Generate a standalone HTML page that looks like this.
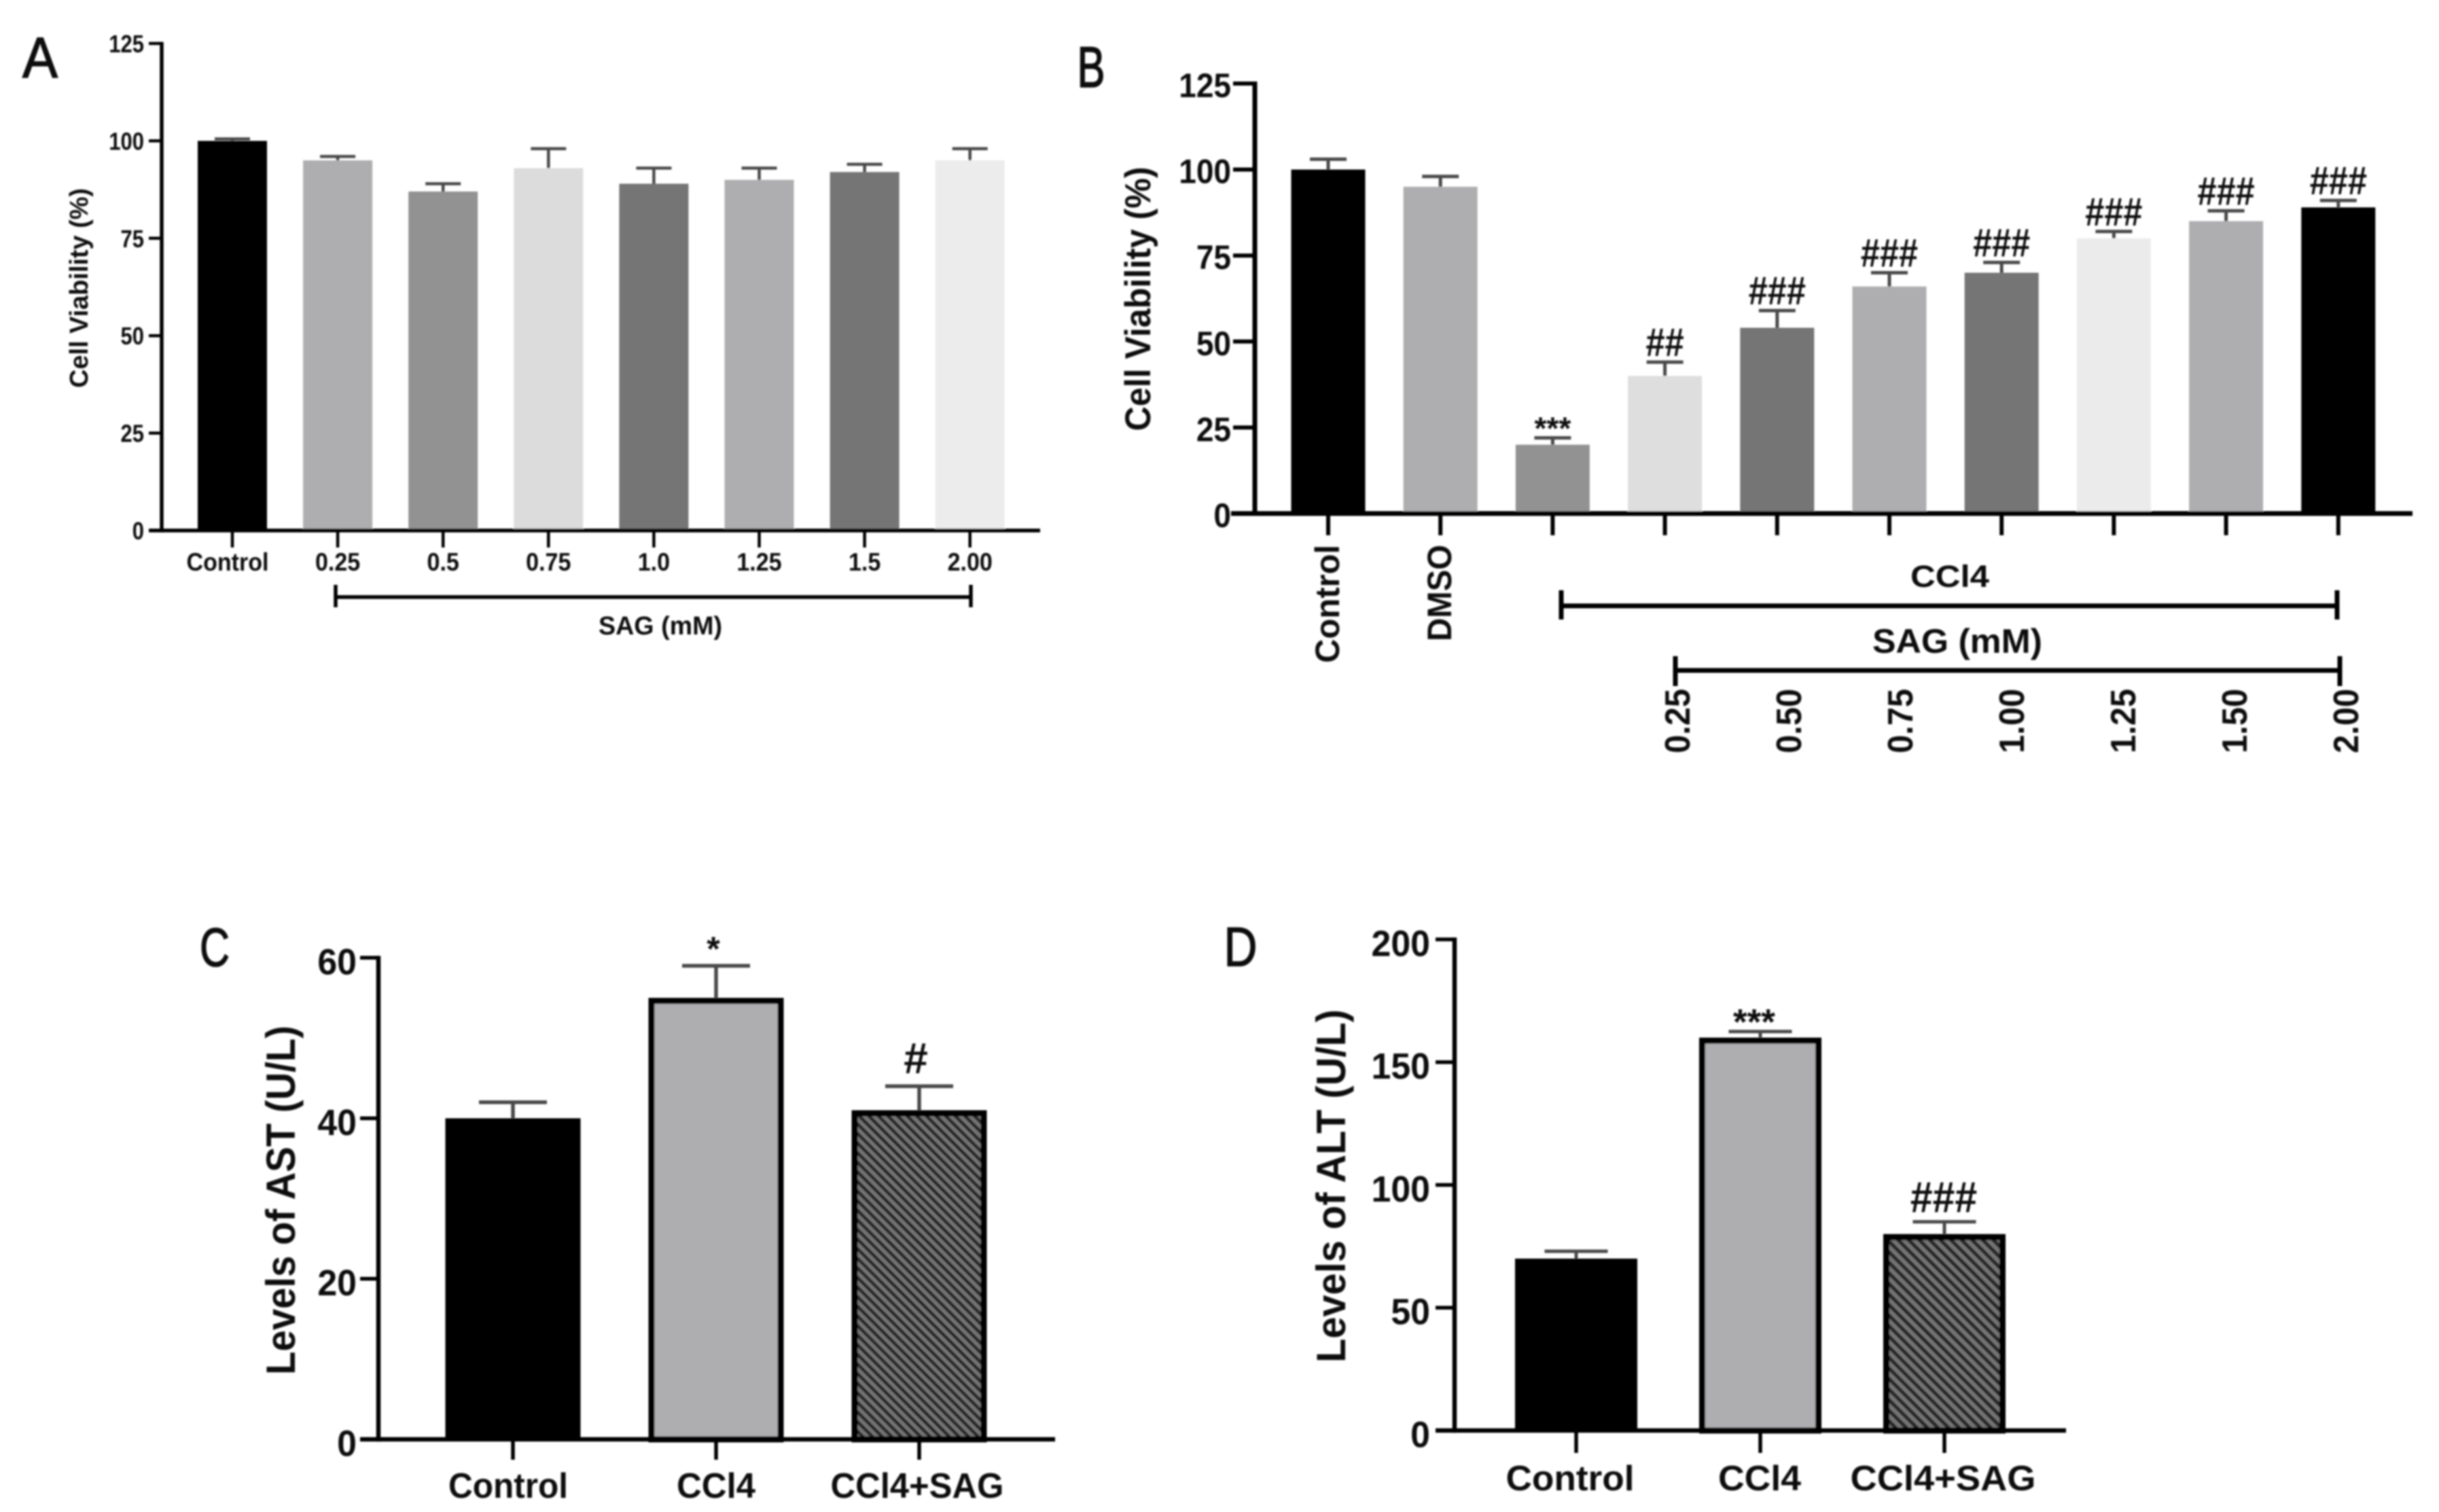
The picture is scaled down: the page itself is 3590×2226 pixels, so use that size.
<!DOCTYPE html>
<html lang="en">
<head>
<meta charset="utf-8">
<title>Cell viability and liver enzyme bar charts</title>
<style>
html,body{margin:0;padding:0;background:#fff;width:3590px;height:2226px;overflow:hidden}
svg{display:block}
text{font-family:"Liberation Sans",sans-serif;fill:#111}
</style>
</head>
<body>
<svg id="figure" xmlns="http://www.w3.org/2000/svg" width="3590" height="2226" viewBox="0 0 3590 2226">
<defs>
<filter id="soft" x="0" y="0" width="100%" height="100%" filterUnits="userSpaceOnUse" primitiveUnits="userSpaceOnUse">
<feGaussianBlur stdDeviation="1.3"/>
</filter>
<pattern id="hatchC" patternUnits="userSpaceOnUse" width="10" height="10" patternTransform="rotate(-45)">
<rect width="10" height="10" fill="#757575"/><rect width="5" height="10" fill="#262626"/>
</pattern>
<pattern id="hatchD" patternUnits="userSpaceOnUse" width="11" height="11" patternTransform="rotate(-45)">
<rect width="11" height="11" fill="#757575"/><rect width="5.5" height="11" fill="#262626"/>
</pattern>
</defs>
<rect width="3590" height="2226" fill="#fff"/>
<g id="root" filter="url(#soft)"></g>
</svg>
<script>
// Panel A data
const categoriesA = ['Control', '0.25', '0.5', '0.75', '1.0', '1.25', '1.5', '2.00'];
const valuesA = [100, 95, 87, 93, 89, 90, 92, 95];
const errorTopsA = [100.5, 96, 89, 98, 93, 93, 94, 98];
const ticksA = [0, 25, 50, 75, 100, 125];

// Panel B data
const categoriesB = ['Control', 'DMSO', '', '', '', '', '', '', '', ''];
const valuesB = [100, 95, 20, 40, 54, 66, 70, 80, 85, 89];
const errorTopsB = [103, 98, 22, 44, 59, 70, 73, 82, 88, 91];
const ticksB = [0, 25, 50, 75, 100, 125];
const marksB = ['', '', '***', '##', '###', '###', '###', '###', '###', '###'];
const dosesB = ['0.25', '0.50', '0.75', '1.00', '1.25', '1.50', '2.00'];

// Panel C data
const categoriesC = ['Control', 'CCl4', 'CCl4+SAG'];
const valuesC = [40, 55, 41];
const errorTopsC = [42, 59, 44];
const ticksC = [0, 20, 40, 60];
const marksC = ['', '*', '#'];

// Panel D data
const categoriesD = ['Control', 'CCl4', 'CCl4+SAG'];
const valuesD = [70, 160, 80];
const errorTopsD = [73, 162.5, 85];
const ticksD = [0, 50, 100, 150, 200];
const marksD = ['', '***', '###'];

const root = document.getElementById('root');
const NS = 'http://www.w3.org/2000/svg';

function add(tag, attrs, name, parent) {
  const el = document.createElementNS(NS, tag);
  for (const k in attrs) el.setAttribute(k, attrs[k]);
  
  
  (parent || root).appendChild(el);
  return el;
}
function line(x1, y1, x2, y2, w, color, name, parent) {
  return add('line', {x1: x1, y1: y1, x2: x2, y2: y2, stroke: color || '#000', 'stroke-width': w}, name, parent);
}
function label(str, x, y, o, name, parent) {
  const a = {x: x, y: y, 'font-size': o.size, 'font-weight': o.weight || 'bold', 'text-anchor': o.anchor || 'middle'};
  if (o.len) { a.textLength = o.len; a.lengthAdjust = 'spacingAndGlyphs'; }
  if (o.rotate) a.transform = 'rotate(-90 ' + x + ' ' + y + ')';
  if (o.stroke) { a.stroke = '#111'; a['stroke-width'] = o.stroke; }
  const t = add('text', a, name, parent);
  t.textContent = str;
  if (o.squeeze) {
    const natural = t.getComputedTextLength();
    t.setAttribute('textLength', natural * o.squeeze);
    t.setAttribute('lengthAdjust', 'spacingAndGlyphs');
  }
  return t;
}

function drawPanel(p) {
  const g = add('g', {}, p.name);
  const yScale = v => p.y0 - (v / p.yMax) * (p.y0 - p.yTop);
  const xScale = i => p.x0 + i * p.step;

  // bars
  p.values.forEach((v, i) => {
    const outlined = p.outlined && p.outlined[i];
    const inset = outlined ? p.border / 2 : 0;
    add('rect', {
      x: xScale(i) - p.barW / 2 + inset,
      y: yScale(v) + inset,
      width: p.barW - inset * 2,
      height: p.y0 - yScale(v) - inset,
      fill: p.fills[i],
      stroke: outlined ? '#000' : 'none',
      'stroke-width': outlined ? p.border : 0
    }, 'bar-' + p.id + '-' + i, g);
  });

  // error bars
  p.errorTops.forEach((e, i) => {
    const cx = xScale(i);
    line(cx, yScale(p.values[i]), cx, yScale(e), p.errW, '#4a4a4a', 'error-stem-' + p.id + '-' + i, g);
    line(cx - p.capW / 2, yScale(e), cx + p.capW / 2, yScale(e), p.capH, '#4a4a4a', 'error-cap-' + p.id + '-' + i, g);
  });

  // axes
  line(p.axisX, p.yTop - p.tickW / 2, p.axisX, p.y0 + p.axisW / 2, p.axisW, '#000', 'y-axis-' + p.id, g);
  line(p.xLeft, p.y0, p.xRight, p.y0, p.axisW, '#000', 'x-axis-' + p.id, g);

  // y ticks
  p.ticks.forEach(t => {
    line(p.axisX - p.tickLen, yScale(t), p.axisX, yScale(t), p.tickW, '#000', 'y-tick-' + p.id + '-' + t, g);
    label(String(t), p.axisX - p.tickLen - p.labelGap, yScale(t) + p.tickSize * 0.36 + p.labelDy,
      {size: p.tickSize, anchor: 'end', squeeze: p.tickSqueeze}, 'y-tick-label-' + p.id + '-' + t, g);
  });

  // x ticks & labels
  p.categories.forEach((c, i) => {
    line(xScale(i), p.y0, xScale(i), p.xTickEnd, p.xTickW, '#000', 'x-tick-' + p.id + '-' + i, g);
    if (!c) return;
    if (p.rotatedCats) {
      label(c, xScale(i) + 16, p.rotTop, {size: p.rotSize, anchor: 'end', rotate: true, len: p.rotLens[i]}, 'x-label-' + p.id + '-' + i, g);
    } else {
      label(c, xScale(i) + (p.catShift ? p.catShift[i] : 0), p.catBase,
        {size: p.catSize, len: p.catLens ? p.catLens[i] : null, squeeze: p.catSqueeze}, 'x-label-' + p.id + '-' + i, g);
    }
  });

  // significance marks
  if (p.marks) p.marks.forEach((m, i) => {
    if (!m) return;
    const star = m[0] === '*';
    const gap = star ? p.starGap : p.hashGap;
    label(m, xScale(i) + (star ? p.starDx : p.hashDx), yScale(p.errorTops[i]) - gap,
      {size: star ? p.starSize : p.hashSize, squeeze: star ? null : p.hashSqueeze}, 'significance-' + p.id + '-' + i, g);
  });

  // y title
  label(p.yTitle, p.titleX, p.titleY, {size: p.titleSize, rotate: true, len: p.titleLen}, 'y-axis-title-' + p.id, g);
  return g;
}

function bracket(x1, x2, y, top, bottom, w, name) {
  line(x1, y, x2, y, w, '#000', name + '-line');
  line(x1, top, x1, bottom, w, '#000', name + '-left-end');
  line(x2, top, x2, bottom, w, '#000', name + '-right-end');
}

drawPanel({
  id: 'a', name: 'panel-a', categories: categoriesA, values: valuesA, errorTops: errorTopsA, ticks: ticksA,
  fills: ['#000', '#aeaeb0', '#929292', '#dcdcdc', '#757575', '#aeaeb0', '#757575', '#ececec'],
  x0: 342, step: 155.1, barW: 102, y0: 781, yTop: 64, yMax: 125, axisX: 238, xLeft: 219, xRight: 1531,
  axisW: 5.5, tickLen: 19, tickW: 4.5, labelGap: 7, labelDy: 0, tickSize: 36, tickSqueeze: 0.86, xTickEnd: 806, xTickW: 4.5,
  catBase: 840, catSize: 37, catSqueeze: 0.92, catShift: [-7, 0, 0, 0, 0, 0, 0, 0],
  errW: 4.5, capW: 52, capH: 4.5,
  yTitle: 'Cell Viability (%)', titleX: 129, titleY: 424, titleSize: 38, titleLen: 294
});

drawPanel({
  id: 'b', name: 'panel-b', categories: categoriesB, values: valuesB, errorTops: errorTopsB, ticks: ticksB,
  fills: ['#000', '#aeaeb0', '#929292', '#dedede', '#757575', '#aeaeb0', '#757575', '#ebebeb', '#aeaeb0', '#000'],
  x0: 1955, step: 165.2, barW: 109, y0: 756, yTop: 123, yMax: 125, axisX: 1847, xLeft: 1812, xRight: 3551,
  axisW: 7, tickLen: 32, tickW: 6, labelGap: 3, labelDy: 2, tickSize: 50, tickSqueeze: 0.92, xTickEnd: 788, xTickW: 6,
  rotatedCats: true, rotTop: 802, rotSize: 50, rotLens: [174, 142],
  errW: 5, capW: 54, capH: 5,
  marks: marksB, starSize: 46, starGap: -2, starDx: 0, hashSize: 58, hashSqueeze: 0.87, hashGap: 9, hashDx: 0,
  yTitle: 'Cell Viability (%)', titleX: 1693, titleY: 440, titleSize: 53, titleLen: 389
});

drawPanel({
  id: 'c', name: 'panel-c', categories: categoriesC, values: valuesC, errorTops: errorTopsC, ticks: ticksC,
  fills: ['#000', '#aeaeb0', 'url(#hatchC)'], outlined: [false, true, true], border: 9,
  x0: 755, step: 299, barW: 199, y0: 2119, yTop: 1410, yMax: 60, axisX: 557, xLeft: 530, xRight: 1553,
  axisW: 6.5, tickLen: 27, tickW: 5.5, labelGap: 5, labelDy: 5, tickSize: 54, tickSqueeze: 0.96, xTickEnd: 2149, xTickW: 5.5,
  catBase: 2205, catSize: 52, catShift: [-7, 0, -3], catLens: [176, 116, 255],
  errW: 5.5, capW: 100, capH: 5.5,
  marks: marksC, starSize: 50, starGap: 8, starDx: -4, hashSize: 64, hashGap: 19, hashDx: -5,
  yTitle: 'Levels of AST (U/L)', titleX: 434, titleY: 1767, titleSize: 60, titleLen: 514
});

drawPanel({
  id: 'd', name: 'panel-d', categories: categoriesD, values: valuesD, errorTops: errorTopsD, ticks: ticksD,
  fills: ['#000', '#aeaeb0', 'url(#hatchD)'], outlined: [false, true, true], border: 9,
  x0: 2320, step: 271, barW: 180, y0: 2106, yTop: 1383, yMax: 200, axisX: 2141, xLeft: 2113, xRight: 3041,
  axisW: 6.5, tickLen: 28, tickW: 5.5, labelGap: 8, labelDy: 5, tickSize: 54, tickSqueeze: 0.96, xTickEnd: 2139, xTickW: 5.5,
  catBase: 2194, catSize: 52, catShift: [-9, -1, -2], catLens: [189, 122, 273],
  errW: 5, capW: 93, capH: 5,
  marks: marksD, starSize: 53, starGap: -4, starDx: -9, hashSize: 64, hashSqueeze: 0.92, hashGap: 14, hashDx: -1,
  yTitle: 'Levels of ALT (U/L)', titleX: 1980, titleY: 1746, titleSize: 60, titleLen: 520
});

// panel A group label
bracket(494, 1429, 879, 861, 894, 5.5, 'sag-bracket-a');
label('SAG (mM)', 972, 934, {size: 38, len: 182}, 'sag-label-a');

// panel B group labels
bracket(2298, 3440, 892, 869, 912, 7, 'ccl4-bracket-b');
label('CCl4', 2870, 864, {size: 45, len: 116}, 'ccl4-label-b');
bracket(2466, 3444, 987, 966, 1010, 7, 'sag-bracket-b');
label('SAG (mM)', 2881, 961, {size: 50, len: 250}, 'sag-label-b');
dosesB.forEach((d, i) => {
  label(d, 2470 + 164 * i + 17, 1014, {size: 52, anchor: 'end', rotate: true, len: 95}, 'dose-label-b-' + i);
});

// panel letters
label('A', 59, 114, {size: 84, weight: 'normal', len: 52, stroke: 1.5}, 'panel-letter-a');
label('B', 1606, 128, {size: 84, weight: 'normal', len: 41, stroke: 1.8}, 'panel-letter-b');
label('C', 316, 1422, {size: 80, weight: 'normal', len: 44, stroke: 1.5}, 'panel-letter-c');
label('D', 1826, 1422, {size: 82, weight: 'normal', len: 49, stroke: 1.5}, 'panel-letter-d');
</script>
</body>
</html>
